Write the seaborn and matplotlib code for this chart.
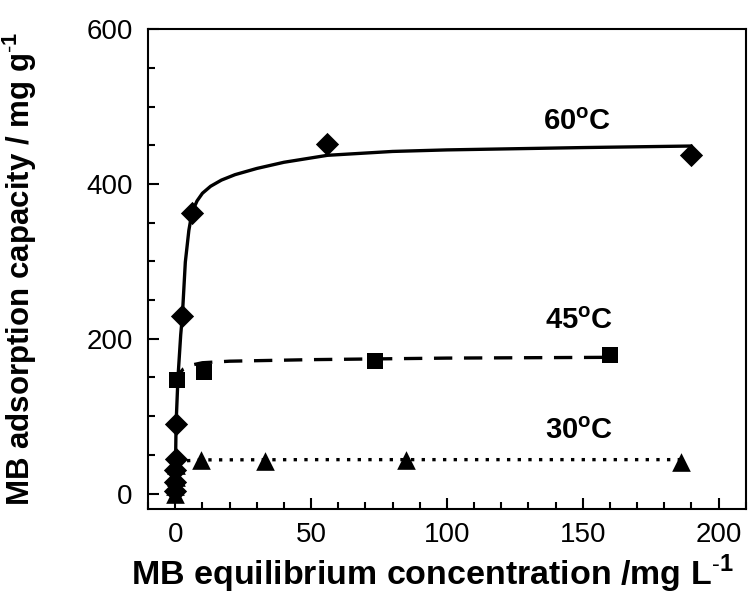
import numpy as np
import pandas as pd
import matplotlib
matplotlib.use("Agg")
import matplotlib.pyplot as plt
from matplotlib.ticker import MultipleLocator
import seaborn as sns

# ---- measured points ----
c60 = [0.01, 0.02, 0.05, 0.1, 0.3, 2.6, 6.0, 56.0, 190.0]
q60 = [3, 15, 30, 45, 90, 230, 363, 451, 438]

c45 = [0.7, 10.7, 73.5, 160.0]
q45 = [147, 157, 171, 179]

c30 = [0.02, 0.05, 0.1, 0.2, 9.6, 33.0, 85.0, 186.0]
q30 = [0, 10, 22, 37, 43, 42, 43.5, 41]

# ---- fitted curves ----
fit60_c = [0, 0.1, 0.3, 1.0, 2.0, 2.6, 3.7, 5.0, 6.0, 7.0, 8.0, 10.0, 13.0, 17.0, 22.0, 30.0, 40.0, 56.0, 80.0, 100.0, 150.0, 190.0]
fit60_q = [0, 40, 90, 150, 205, 229, 299, 340, 360, 370, 378, 388, 397, 405, 412, 420, 428, 437, 442, 444, 447, 449]

fit45_c = [0.3, 0.7, 1.5, 3.0, 6.0, 10.0, 20.0, 50.0, 100.0, 160.0]
fit45_q = [140, 147, 155, 161, 166, 169, 171, 173, 175, 176]

fit30_c = [0.5, 2.0, 10.0, 50.0, 100.0, 186.0]
fit30_q = [40, 42, 43.5, 43.8, 43.8, 43.8]

labels = ["60$^{\\mathregular{o}}$C", "45$^{\\mathregular{o}}$C", "30$^{\\mathregular{o}}$C"]
label_x = [148, 148.5, 148.5]
label_y = [470, 212, 71]

sns.set_style("ticks")
plt.rcParams["font.family"] = ["Liberation Sans", "DejaVu Sans"]
plt.rcParams["mathtext.fontset"] = "custom"
plt.rcParams["mathtext.rm"] = "Liberation Sans"
plt.rcParams["mathtext.bf"] = "Liberation Sans:bold"
plt.rcParams["text.color"] = "black"
plt.rcParams["axes.labelcolor"] = "black"
plt.rcParams["xtick.color"] = "black"
plt.rcParams["ytick.color"] = "black"

fig = plt.figure(figsize=(7.48, 5.95), dpi=100)
ax = fig.add_axes([0.198, 0.1445, 0.799, 0.8065])

sns.lineplot(x=fit60_c, y=fit60_q, ax=ax, color="black", lw=2.4, sort=False, estimator=None)
sns.lineplot(x=fit45_c, y=fit45_q, ax=ax, color="black", lw=2.4, sort=False, estimator=None,
             linestyle=(0, (5.5, 3.5)))
sns.lineplot(x=fit30_c, y=fit30_q, ax=ax, color="black", lw=2.4, sort=False, estimator=None,
             linestyle=(0, (1, 2.2)))

sns.scatterplot(x=c60, y=q60, ax=ax, marker="D", s=140, color="black", edgecolor="black", linewidth=0, zorder=5)
sns.scatterplot(x=c45, y=q45, ax=ax, marker="s", s=120, color="black", edgecolor="black", linewidth=0, zorder=5)
sns.scatterplot(x=c30, y=q30, ax=ax, marker="^", s=180, color="black", edgecolor="black", linewidth=0, zorder=5)

for t, x, y in zip(labels, label_x, label_y):
    ax.text(x, y, t, ha="center", va="baseline", fontsize=21, fontweight="bold")

ax.set_xlim(-10, 210)
ax.set_ylim(-20, 600)
ax.xaxis.set_major_locator(MultipleLocator(50))
ax.xaxis.set_minor_locator(MultipleLocator(10))
ax.yaxis.set_major_locator(MultipleLocator(200))
ax.yaxis.set_minor_locator(MultipleLocator(50))
ax.tick_params(which="both", direction="in", top=False, right=False, width=1.5, labelsize=20, colors="black")
ax.tick_params(which="major", length=8)
ax.tick_params(which="minor", length=5)
ax.tick_params(axis="x", pad=9)
ax.tick_params(axis="y", pad=11)
for sp in ax.spines.values():
    sp.set_visible(True)
    sp.set_linewidth(1.5)
    sp.set_color("black")

ax.set_xlabel("MB equilibrium concentration /mg L$^{\\mathbf{\\text{-}1}}$", fontsize=24.5, fontweight="bold")
ax.set_ylabel("MB adsorption capacity / mg g$^{\\mathbf{\\text{-}1}}$", fontsize=22.5, fontweight="bold")
ax.xaxis.set_label_coords(0.476, -0.092)
ax.yaxis.set_label_coords(-0.182, 0.5)

fig.savefig("out.png", dpi=100, facecolor="white")
